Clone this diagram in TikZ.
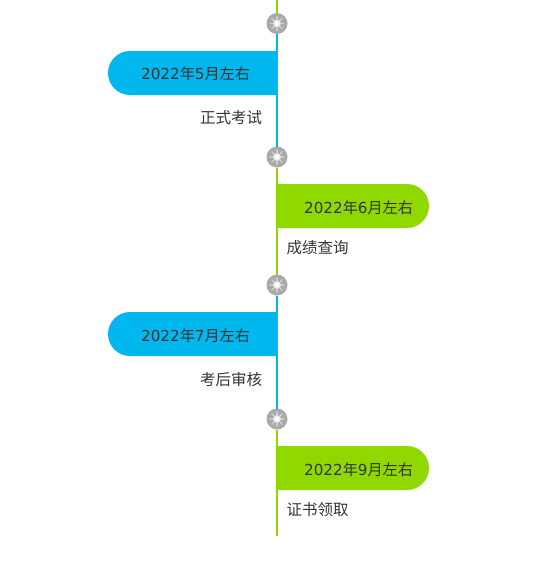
\documentclass[tikz,border=0pt]{standalone}
\usepackage{fontspec}
\setmainfont{DejaVu Sans}
\newfontfamily\cjk{Noto Sans CJK SC}
\definecolor{pillblue}{HTML}{00B7EE}
\definecolor{pillgreen}{HTML}{8FD900}
\definecolor{inktext}{HTML}{333333}
\definecolor{dotgray}{HTML}{A9A9A9}
\newcommand{\when}[1]{\fontsize{15.15}{15.15}\selectfont 2022{\cjk 年}#1{\cjk 月左右}}
\tikzset{
  x=1pt,y=-1pt,
  spine/.style={line width=2pt},
  datelabel/.style={text=inktext,inner sep=0pt,anchor=base west},
  caption/.style={text=inktext,inner sep=0pt,anchor=base west,font=\cjk\fontsize{15.5}{15.5}\selectfont},
  hub/.style={circle,minimum size=21pt,inner sep=0pt,outer sep=0pt,fill=dotgray,
    path picture={
      \foreach \a in {0,45,...,315}{
        \draw[white,line width=1.6pt,opacity=.4,line cap=round] (path picture bounding box.center) -- ++(\a:7pt);
      }
      \fill[white,opacity=.5] (path picture bounding box.center) circle[radius=4pt];
      \fill[white] (path picture bounding box.center) circle[radius=2.6pt];
    }},
}
\begin{document}
\begin{tikzpicture}
\useasboundingbox (0,0) rectangle (544,573);
\coordinate (top) at (277,0);
\coordinate (bottom) at (277,536);
% pills
\fill[pillblue] (277,51) -- (130,51) arc[start angle=90,end angle=270,radius=22pt] -- (277,95) -- cycle;
\fill[pillgreen] (277,184) -- (407,184) arc[start angle=90,end angle=-90,radius=22pt] -- (277,228) -- cycle;
\fill[pillblue] (277,312) -- (130,312) arc[start angle=90,end angle=270,radius=22pt] -- (277,356) -- cycle;
\fill[pillgreen] (277,446) -- (407,446) arc[start angle=90,end angle=-90,radius=22pt] -- (277,490) -- cycle;
% hubs
\node[hub] (h1) at (277,23.5) {};
\node[hub] (h2) at (277,157) {};
\node[hub] (h3) at (277,285) {};
\node[hub] (h4) at (277,419) {};
% spine
\draw[spine,pillgreen] (top) -- (h1);
\draw[spine,pillblue] (h1) -- (h2);
\draw[spine,pillgreen] (h2) -- (h3);
\draw[spine,pillblue] (h3) -- (h4);
\draw[spine,pillgreen] (h4) -- (bottom);
% texts
\node[datelabel] (d1) at (141,79) {\when{5}};
\node[caption] (c1) at (200,123) {正式考试};
\node[datelabel] (d2) at (304,213) {\when{6}};
\node[caption] (c2) at (286.5,253) {成绩查询};
\node[datelabel] (d3) at (141,341) {\when{7}};
\node[caption] (c3) at (200,385) {考后审核};
\node[datelabel] (d4) at (304,475) {\when{9}};
\node[caption] (c4) at (286.5,515) {证书领取};
\end{tikzpicture}
\end{document}
